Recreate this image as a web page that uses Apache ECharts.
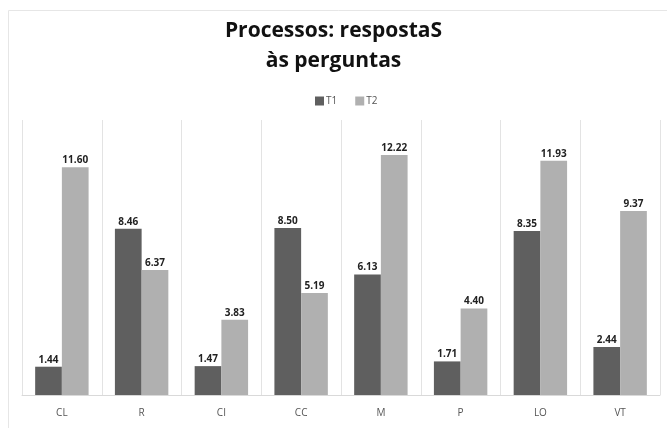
<!DOCTYPE html>
<html>
<head>
<meta charset="utf-8">
<script src="https://cdn.jsdelivr.net/npm/echarts@6/dist/echarts.min.js"></script>
<style>
  html, body { margin: 0; padding: 0; background: #fff; }
  #chart { width: 667px; height: 428px; }
</style>
</head>
<body>
<div id="chart"></div>
<script>
const categories = ['CL', 'R', 'CI', 'CC', 'M', 'P', 'LO', 'VT'];
const t1Values = [1.44, 8.46, 1.47, 8.50, 6.13, 1.71, 8.35, 2.44];
const t2Values = [11.60, 6.37, 3.83, 5.19, 12.22, 4.40, 11.93, 9.37];
const seriesNames = ['T1', 'T2'];
const titleText = 'Processos: respostaS\nàs perguntas';

const chart = echarts.init(document.getElementById('chart'));

const labelStyle = {
  show: true,
  position: 'top',
  distance: 2,
  formatter: p => p.value.toFixed(2),
  fontFamily: 'Open Sans',
  fontSize: 10,
  fontWeight: 'bold',
  color: '#222'
};

chart.setOption({
  backgroundColor: '#fff',
  animation: false,
  graphic: [{
    type: 'rect',
    shape: { x: 8.5, y: 10.5, width: 680, height: 430 },
    style: { fill: 'none', stroke: '#e6e6e6', lineWidth: 1 },
    silent: true
  }],
  title: {
    text: titleText,
    left: 'center',
    top: 11,
    textStyle: {
      fontFamily: 'Open Sans',
      fontSize: 21,
      fontWeight: 'bold',
      color: '#111',
      lineHeight: 30
    }
  },
  legend: {
    data: seriesNames,
    top: 91,
    left: 310,
    itemWidth: 9,
    itemHeight: 9,
    itemGap: 18,
    icon: 'rect',
    textStyle: { fontFamily: 'Open Sans', fontSize: 10, color: '#555', padding: [0, 0, 0, -3] }
  },
  grid: { left: 22, right: 7, top: 120, bottom: 33, containLabel: false },
  xAxis: {
    type: 'category',
    data: categories,
    axisLine: { lineStyle: { color: '#d9d9d9' } },
    axisTick: { show: false },
    axisLabel: { fontFamily: 'Open Sans', fontSize: 10, color: '#555', margin: 13 },
    splitLine: { show: true, lineStyle: { color: '#e3e3e3' } }
  },
  yAxis: {
    type: 'value',
    min: 0,
    max: 14,
    show: false,
    splitLine: { show: false }
  },
  series: [
    {
      name: seriesNames[0],
      type: 'bar',
      data: t1Values,
      barGap: '0%',
      barCategoryGap: '33%',
      itemStyle: { color: '#5f5f5f' },
      label: labelStyle
    },
    {
      name: seriesNames[1],
      type: 'bar',
      data: t2Values,
      itemStyle: { color: '#b0b0b0' },
      label: labelStyle
    }
  ]
});
</script>
</body>
</html>
